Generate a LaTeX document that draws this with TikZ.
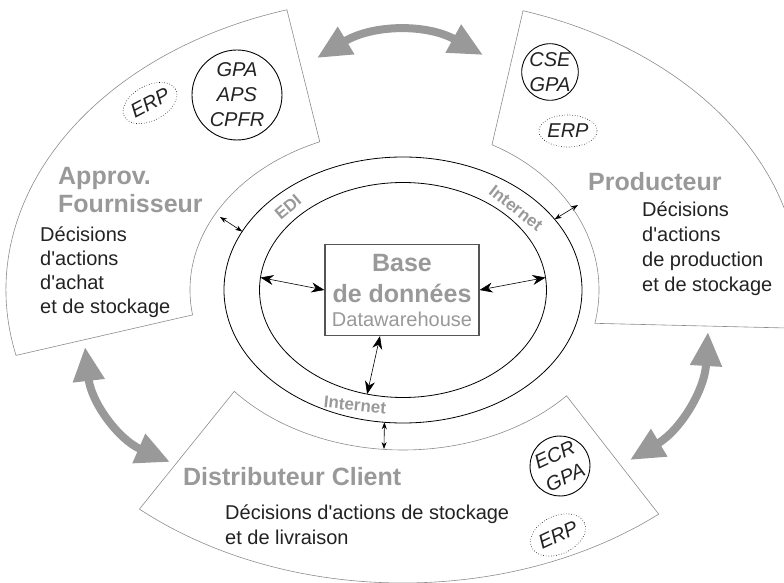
\documentclass[tikz,border=0pt]{standalone}
\usepackage{fontspec}
\newfontfamily\arial{Liberation Sans}
\usetikzlibrary{arrows.meta,shapes.geometric}
\definecolor{frame}{HTML}{8C8C8C}
\definecolor{title}{HTML}{999999}
\definecolor{body}{HTML}{222222}
\definecolor{boxline}{HTML}{555555}

\begin{document}
\begin{tikzpicture}[x=1pt,y=1pt,
  sector/.style={draw=frame,line width=0.6pt},
  ring/.style={draw,ellipse,line width=0.8pt,inner sep=0pt,outer sep=0pt},
  dbbox/.style={draw=boxline,line width=1.2pt,fill=white,minimum width=154pt,minimum height=91pt,
    inner sep=0pt,align=center,text=title,font=\arial\fontsize{25}{31}\selectfont\bfseries},
  ttl/.style={anchor=north west,inner sep=0pt,align=left,text=title,font=\arial\fontsize{25}{28}\selectfont\bfseries},
  txt/.style={anchor=north west,inner sep=0pt,align=left,text=body,font=\arial\fontsize{20}{24}\selectfont},
  tool/.style={draw,circle,line width=0.9pt,inner sep=0pt,align=center,text=body,font=\arial\fontsize{20}{25}\selectfont\itshape},
  erp/.style={draw,ellipse,dotted,line width=0.6pt,inner sep=0pt,minimum width=56pt,minimum height=35pt,
    text=body,font=\arial\fontsize{20}{24}\selectfont\itshape},
  net/.style={inner sep=0pt,text=title,font=\arial\fontsize{17}{19}\selectfont\bfseries},
  link/.style={{Stealth[length=13pt,width=10pt]}-{Stealth[length=13pt,width=10pt]},line width=0.6pt},
  hop/.style={{Stealth[length=7pt,width=5pt]}-{Stealth[length=7pt,width=5pt]},line width=0.6pt},
  flow/.style={{Triangle[length=34pt,width=30pt]}-{Triangle[length=34pt,width=30pt]},line width=8pt,draw=title}]
  \useasboundingbox (-403,-293) rectangle (381,290);
  \clip (-403,-293) rectangle (381,290);
  % the three actors
  \draw[sector] (107:397pt and 293pt) arc (107:192.9:397pt and 293pt)
    -- (188.9:213pt and 161pt) arc (188.9:113:213pt and 161pt) -- cycle;
  \draw[sector] (72.4:397pt and 293pt) arc (72.4:-7.5:397pt and 293pt)
    -- (-11.8:196pt and 163pt) arc (-11.8:63:196pt and 163pt) -- cycle;
  \draw[sector] (228.4:397pt and 293pt) arc (228.4:310.1:397pt and 293pt)
    -- (318.6:218pt and 160pt) arc (318.6:219.3:218pt and 160pt) -- cycle;
  % networks and data
  \node[ring,minimum width=358pt,minimum height=266pt] (wan) at (0,0) {};
  \node[ring,minimum width=287pt,minimum height=215pt] (lan) at (0,0) {};
  \node[dbbox] (db) at (-1,0) {Base\\de données\\[-7pt]{\mdseries\fontsize{20}{24}\selectfont Datawarehouse}};
  \coordinate (dbS) at ([xshift=-22pt]db.south);
  \draw[link] (lan.175) -- (db.west);
  \draw[link] (db.east) -- (lan.5);
  \draw[link] (dbS) -- (lan.251);
  \node[net,rotate=40] (edi) at (-115,83) {EDI};
  \node[net,rotate=-38] (netP) at (113,82) {Internet};
  \node[net,rotate=-6] (netD) at (-48,-115) {Internet};
  % access to the network
  \coordinate (supL) at (-183,73);
  \coordinate (prodR) at (175,85);
  \coordinate (distB) at (-19,-159);
  \draw[hop] (supL) -- (wan.160);
  \draw[hop] (wan.25) -- (prodR);
  \draw[hop] (wan.262) -- (distB);
  % supplier
  \node[ttl] (supT) at (-345,123) {Approv.\\Fournisseur};
  \node[txt] (supD) at (-363,63) {Décisions\\d'actions\\d'achat\\et de stockage};
  \node[tool,minimum size=90pt] (supTools) at (-166,195) {GPA\\APS\\CPFR};
  \node[erp,rotate=28] (supERP) at (-253,187) {ERP};
  % producer
  \node[ttl] (prodT) at (185,118) {Producteur};
  \node[txt,font=\arial\fontsize{20}{25}\selectfont] (prodD) at (239,88) {Décisions\\d'actions\\de production\\et de stockage};
  \node[tool,minimum size=56pt] (prodTools) at (147,218) {CSE\\GPA};
  \node[erp,minimum width=57pt,minimum height=32pt] (prodERP) at (165,159) {ERP};
  % distributor
  \node[ttl] (distT) at (-220,-177) {Distributeur Client};
  \node[txt,font=\arial\fontsize{20}{25}\selectfont] (distD) at (-178,-215) {Décisions d'actions de stockage\\et de livraison};
  \node[tool,minimum size=60pt,rotate=25] (distTools) at (157,-176) {ECR\\GPA};
  \node[erp,rotate=25,minimum height=38pt] (distERP) at (155,-245) {ERP};
  % flows between actors
  \coordinate (fa1) at (-86,232); \coordinate (fa2) at (80,235);
  \coordinate (fb1) at (-318,-57); \coordinate (fb2) at (-233,-172);
  \coordinate (fc1) at (305,-42); \coordinate (fc2) at (227,-170);
  \draw[flow] (fa1) to[bend left=30] (fa2);
  \draw[flow] (fb1) to[bend right=30] (fb2);
  \draw[flow] (fc1) to[bend left=28] (fc2);
\end{tikzpicture}
\end{document}
